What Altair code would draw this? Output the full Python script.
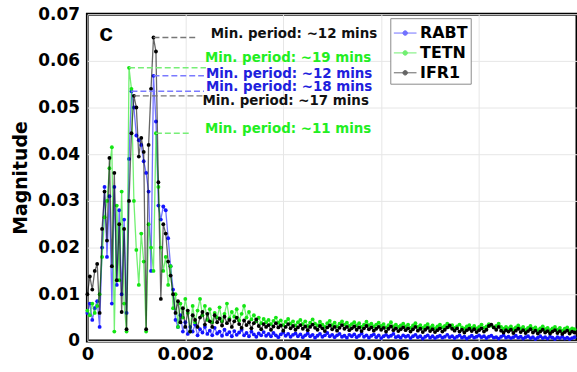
import altair as alt
import pandas as pd

# ---- data (frequency bins of 0.00005) ----
FREQ_STEP = 0.00005

rabt = [
    0.0060, 0.0080, 0.0045, 0.0070, 0.0085, 0.0030, 0.0200, 0.0330, 0.0180, 0.0310,
    0.0080, 0.0330, 0.0120, 0.0280, 0.0100, 0.0260, 0.0060, 0.0390, 0.0535, 0.0500,
    0.0440, 0.0430, 0.0420, 0.0385, 0.0360, 0.0320, 0.0150, 0.0568, 0.0470, 0.0290,
    0.0260, 0.0288, 0.0280, 0.0220, 0.0160, 0.0110, 0.0045, 0.0030, 0.0055, 0.0020,
    0.0040, 0.0015, 0.0030, 0.0020, 0.0035, 0.0012,
    0.0025, 0.0018, 0.0030, 0.0015, 0.0022, 0.0012, 0.0028, 0.0016, 0.0020, 0.0011, 0.0024, 0.0014, 0.0019, 0.0010,
    0.0021, 0.0013, 0.0018, 0.0024, 0.0012, 0.0017, 0.0010, 0.0020, 0.0014, 0.0009, 0.0016, 0.0012, 0.0019, 0.0011,
    0.0015, 0.0010, 0.0017, 0.0012, 0.0008, 0.0014, 0.0018, 0.0011, 0.0015, 0.0009, 0.0013, 0.0016, 0.0010, 0.0014,
    0.0008, 0.0012, 0.0016, 0.0010, 0.0013, 0.0007, 0.0011, 0.0015, 0.0009, 0.0012, 0.0017, 0.0010, 0.0013, 0.0008,
    0.0012, 0.0015, 0.0009, 0.0011, 0.0007, 0.0013, 0.0010, 0.0014, 0.0008, 0.0011, 0.0016, 0.0009, 0.0012, 0.0007,
    0.0011, 0.0014, 0.0008, 0.0012, 0.0006, 0.0010, 0.0013, 0.0009, 0.0011, 0.0015, 0.0008, 0.0010, 0.0007, 0.0012,
    0.0009, 0.0011, 0.0006, 0.0010, 0.0013, 0.0008, 0.0010, 0.0005, 0.0009, 0.0012, 0.0007, 0.0010, 0.0006, 0.0009,
    0.0011, 0.0007, 0.0009, 0.0013, 0.0008, 0.0010, 0.0006, 0.0009, 0.0012, 0.0007, 0.0009, 0.0005, 0.0008, 0.0011,
    0.0007, 0.0009, 0.0012, 0.0008, 0.0010, 0.0006, 0.0009, 0.0011, 0.0007, 0.0008, 0.0005, 0.0009, 0.0012, 0.0007,
    0.0009, 0.0006, 0.0008, 0.0011, 0.0007, 0.0009, 0.0005, 0.0008, 0.0010, 0.0006, 0.0008, 0.0004, 0.0007, 0.0010,
    0.0006, 0.0008, 0.0005, 0.0009, 0.0007, 0.0004, 0.0008, 0.0006, 0.0009, 0.0005, 0.0007, 0.0004, 0.0006, 0.0008,
]

tetn = [
    0.0065, 0.0055, 0.0080, 0.0060, 0.0075, 0.0100, 0.0180, 0.0265, 0.0300, 0.0370,
    0.0415, 0.0020, 0.0290, 0.0130, 0.0320, 0.0080, 0.0020, 0.0585, 0.0540, 0.0300,
    0.0195, 0.0120, 0.0230, 0.0170, 0.0020, 0.0250, 0.0200, 0.0150, 0.0445, 0.0330,
    0.0200, 0.0150, 0.0180, 0.0120, 0.0160, 0.0070, 0.0100, 0.0030, 0.0080, 0.0050,
    0.0090, 0.0060, 0.0020, 0.0075, 0.0040, 0.0065,
    0.0090, 0.0055, 0.0075, 0.0045, 0.0068, 0.0040, 0.0060, 0.0050, 0.0072, 0.0042, 0.0058, 0.0080, 0.0048, 0.0062,
    0.0052, 0.0068, 0.0044, 0.0058, 0.0075, 0.0050, 0.0062, 0.0046, 0.0055, 0.0042, 0.0050, 0.0038, 0.0047, 0.0040,
    0.0045, 0.0036, 0.0043, 0.0050, 0.0039, 0.0044, 0.0034, 0.0041, 0.0047, 0.0037, 0.0042, 0.0033, 0.0040, 0.0045,
    0.0036, 0.0042, 0.0032, 0.0039, 0.0046, 0.0037, 0.0033, 0.0041, 0.0035, 0.0030, 0.0038, 0.0043, 0.0034, 0.0039,
    0.0031, 0.0037, 0.0042, 0.0035, 0.0039, 0.0032, 0.0036, 0.0040, 0.0033, 0.0038, 0.0030, 0.0035, 0.0041, 0.0034,
    0.0037, 0.0031, 0.0035, 0.0039, 0.0032, 0.0036, 0.0029, 0.0034, 0.0040, 0.0031, 0.0035, 0.0030, 0.0033, 0.0037,
    0.0031, 0.0035, 0.0028, 0.0033, 0.0038, 0.0030, 0.0034, 0.0028, 0.0032, 0.0036, 0.0029, 0.0033, 0.0027, 0.0031,
    0.0035, 0.0029, 0.0032, 0.0037, 0.0030, 0.0034, 0.0028, 0.0031, 0.0035, 0.0029, 0.0026, 0.0031, 0.0034, 0.0028,
    0.0032, 0.0027, 0.0030, 0.0035, 0.0028, 0.0031, 0.0036, 0.0033, 0.0029, 0.0032, 0.0037, 0.0030, 0.0026, 0.0030,
    0.0027, 0.0031, 0.0025, 0.0029, 0.0033, 0.0027, 0.0030, 0.0024, 0.0028, 0.0032, 0.0026, 0.0029, 0.0023, 0.0027,
    0.0031, 0.0025, 0.0028, 0.0023, 0.0027, 0.0030, 0.0024, 0.0028, 0.0022, 0.0026, 0.0029, 0.0023, 0.0027, 0.0025,
]

ifr1 = [
    0.0100, 0.0138, 0.0110, 0.0150, 0.0165, 0.0060, 0.0240, 0.0320, 0.0215, 0.0392,
    0.0160, 0.0360, 0.0130, 0.0250, 0.0062, 0.0240, 0.0025, 0.0300, 0.0445, 0.0525,
    0.0500, 0.0395, 0.0435, 0.0405, 0.0025, 0.0420, 0.0540, 0.0650, 0.0620, 0.0340,
    0.0090, 0.0250, 0.0230, 0.0170, 0.0140, 0.0100, 0.0060, 0.0085, 0.0040, 0.0070,
    0.0030, 0.0065, 0.0020, 0.0055, 0.0045, 0.0030,
    0.0050, 0.0062, 0.0035, 0.0058, 0.0042, 0.0030, 0.0055, 0.0040, 0.0048, 0.0033, 0.0052, 0.0038, 0.0045, 0.0030,
    0.0042, 0.0050, 0.0036, 0.0028, 0.0044, 0.0034, 0.0040, 0.0027, 0.0038, 0.0046, 0.0032, 0.0025, 0.0036, 0.0030,
    0.0034, 0.0024, 0.0031, 0.0038, 0.0029, 0.0033, 0.0022, 0.0030, 0.0036, 0.0027, 0.0032, 0.0024, 0.0029, 0.0034,
    0.0026, 0.0031, 0.0023, 0.0030, 0.0035, 0.0028, 0.0024, 0.0032, 0.0027, 0.0021, 0.0029, 0.0033, 0.0025, 0.0030,
    0.0022, 0.0028, 0.0034, 0.0026, 0.0030, 0.0023, 0.0027, 0.0031, 0.0024, 0.0029, 0.0021, 0.0027, 0.0032, 0.0025,
    0.0029, 0.0022, 0.0026, 0.0030, 0.0024, 0.0028, 0.0020, 0.0026, 0.0031, 0.0023, 0.0027, 0.0021, 0.0025, 0.0029,
    0.0023, 0.0027, 0.0020, 0.0025, 0.0030, 0.0022, 0.0026, 0.0019, 0.0024, 0.0028, 0.0021, 0.0025, 0.0019, 0.0023,
    0.0027, 0.0020, 0.0024, 0.0029, 0.0033, 0.0026, 0.0022, 0.0027, 0.0020, 0.0024, 0.0018, 0.0023, 0.0026, 0.0021,
    0.0025, 0.0019, 0.0023, 0.0027, 0.0020, 0.0024, 0.0032, 0.0035, 0.0029, 0.0024, 0.0030, 0.0022, 0.0018, 0.0023,
    0.0020, 0.0024, 0.0017, 0.0022, 0.0026, 0.0019, 0.0023, 0.0017, 0.0021, 0.0025, 0.0018, 0.0022, 0.0016, 0.0020,
    0.0024, 0.0018, 0.0021, 0.0016, 0.0020, 0.0023, 0.0017, 0.0021, 0.0015, 0.0019, 0.0022, 0.0016, 0.0020, 0.0018,
]

series_names = ["RABT", "TETN", "IFR1"]
series_colors = ["#1414ff", "#14e614", "#000000"]

x_ticks = [0, 0.002, 0.004, 0.006, 0.008]
y_ticks = [0, 0.01, 0.02, 0.03, 0.04, 0.05, 0.06, 0.07]

# annotations
ann_labels = ["Min. period: ~12 mins", "Min. period: ~19 mins", "Min. period: ~12 mins",
              "Min. period: ~18 mins", "Min. period: ~17 mins", "Min. period: ~11 mins"]
ann_text_color = ["#111111", "#22ee22", "#2020dd", "#2020dd", "#111111", "#22ee22"]
ann_text_x = [0.00252, 0.00240, 0.00242, 0.00242, 0.00235, 0.00240]
ann_text_y = [0.0657, 0.0606, 0.0572, 0.0543, 0.0515, 0.0455]
ann_line_x0 = [0.00135, 0.00085, 0.00135, 0.00090, 0.00095, 0.00140]
ann_line_x1 = [0.00224, 0.00242, 0.00238, 0.00238, 0.00238, 0.00211]
ann_line_y = [0.0650, 0.0585, 0.0568, 0.0535, 0.0525, 0.0445]
ann_line_color = ["#777777", "#77ee77", "#7a7aff", "#7a7aff", "#777777", "#77ee77"]

# ---- build tables ----
freq = [round(i * FREQ_STEP, 6) for i in range(len(ifr1))]
rows = []
for name, vals in zip(series_names, [rabt, tetn, ifr1]):
    for f, v in zip(freq, vals):
        rows.append({"freq": f, "mag": v, "series": name})
df = pd.DataFrame(rows)

ann_df = pd.DataFrame({
    "label": ann_labels, "tcol": ann_text_color, "tx": ann_text_x, "ty": ann_text_y,
    "x0": ann_line_x0, "x1": ann_line_x1, "yl": ann_line_y, "lcol": ann_line_color,
})

FONT = "DejaVu Sans"

x_enc = alt.X("freq:Q", title=None,
              scale=alt.Scale(domain=[0, 0.01], nice=False, zero=False),
              axis=alt.Axis(values=x_ticks, format="~g", labelFlush=False, labelPadding=5,
                            labelFontSize=18))
y_enc = alt.Y("mag:Q", title="Magnitude",
              scale=alt.Scale(domain=[0, 0.07], nice=False),
              axis=alt.Axis(values=y_ticks, format="~g", labelFlush=False, labelPadding=8,
                            titleFont=FONT, titleFontWeight="bold", titleFontSize=19,
                            titlePadding=7, titleColor="black"))

legend = alt.Legend(
    title=None, orient="none", legendX=305, legendY=4,
    fillColor="white", strokeColor="#8a8a8a", padding=3,
    labelFont=FONT, labelFontWeight="bold", labelFontSize=16, labelColor="black",
    symbolType="M-1,0H1M-0.2,0A0.2,0.2,0,1,0,0.2,0A0.2,0.2,0,1,0,-0.2,0Z",
    symbolSize=520, symbolStrokeWidth=1, rowPadding=0, labelOffset=3,
)
color_enc = alt.Color("series:N", scale=alt.Scale(domain=series_names, range=series_colors),
                      legend=legend)

base = alt.Chart(df)
layers = []
for name in series_names:
    sub = base.transform_filter(alt.datum.series == name)
    layers.append(sub.mark_line(strokeWidth=1.3, opacity=0.6).encode(x=x_enc, y=y_enc, color=color_enc))
    layers.append(sub.mark_point(filled=True, size=15, opacity=1).encode(x=x_enc, y=y_enc, color=color_enc))

rules = alt.Chart(ann_df).mark_rule(strokeDash=[6, 3], strokeWidth=1.5).encode(
    x="x0:Q", x2="x1:Q", y="yl:Q", stroke=alt.Stroke("lcol:N", scale=None))
texts = alt.Chart(ann_df).mark_text(align="left", baseline="middle", font=FONT,
                                    fontWeight="bold", fontSize=13.5).encode(
    x="tx:Q", y="ty:Q", text="label:N", fill=alt.Fill("tcol:N", scale=None))

panel = alt.Chart(pd.DataFrame({"t": ["c"]})).mark_text(
    align="center", baseline="middle", font="Liberation Sans", fontWeight="bold",
    fontSize=25, color="black").encode(x=alt.value(19), y=alt.value(19), text="t:N")

chart = alt.layer(*layers, rules, texts, panel).properties(
    width=493, height=329,
    padding={"left": 88, "top": 13, "right": 0, "bottom": 29},
    autosize=alt.AutoSizeParams(type="none"),
).configure_view(stroke="black", strokeWidth=3).configure_axis(
    grid=True, gridColor="#e6e6e6", gridWidth=1, domain=False, ticks=False,
    labelFont=FONT, labelFontWeight="bold", labelFontSize=17, labelColor="black",
)

chart.save("out.html", embed_options={"renderer": "svg", "actions": False})
